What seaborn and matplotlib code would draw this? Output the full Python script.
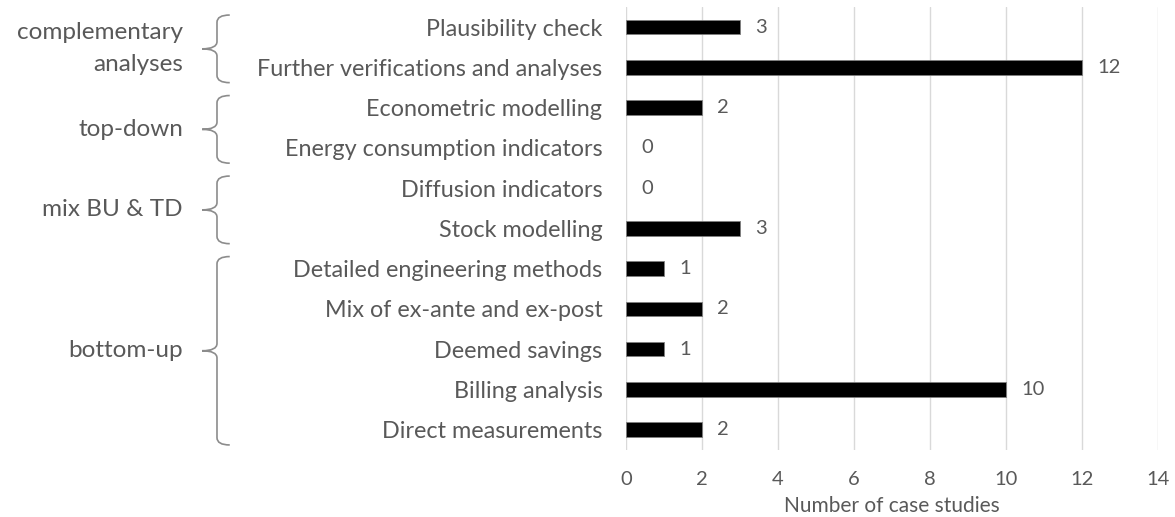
import matplotlib
matplotlib.use("Agg")
import matplotlib.pyplot as plt
from matplotlib.path import Path
from matplotlib.patches import PathPatch
from matplotlib.transforms import blended_transform_factory
import seaborn as sns
import pandas as pd

methods = [
    "Plausibility check",
    "Further verifications and analyses",
    "Econometric modelling",
    "Energy consumption indicators",
    "Diffusion indicators",
    "Stock modelling",
    "Detailed engineering methods",
    "Mix of ex-ante and ex-post",
    "Deemed savings",
    "Billing analysis",
    "Direct measurements",
]
case_counts = [3, 12, 2, 0, 0, 3, 1, 2, 1, 10, 2]

group_names = ["complementary\nanalyses", "top-down", "mix BU & TD", "bottom-up"]
group_first = [0, 2, 4, 6]
group_last = [1, 3, 5, 10]

x_ticks = [0, 2, 4, 6, 8, 10, 12, 14]

TEXT = "#595959"
GRID = "#d9d9d9"
BRACE = "#8c8c8c"

sns.set_theme(style="white")
plt.rcParams["font.family"] = ["Lato", "DejaVu Sans"]

df = pd.DataFrame({"method": methods, "count": case_counts})

fig = plt.figure(figsize=(11.75, 5.17), dpi=100)
ax = fig.add_axes([0.5328, 0.130, 0.4527, 0.8565])

sns.barplot(data=df, x="count", y="method", orient="h", color="black",
            width=0.36, edgecolor="#7f7f7f", linewidth=0.6, ax=ax,
            saturation=1)
# no outline on empty bars
for patch, v in zip(ax.patches, case_counts):
    if v == 0:
        patch.set_linewidth(0)

ax.set_xlim(0, 14)
ax.set_xticks(x_ticks)
ax.xaxis.grid(True, color=GRID, linewidth=1.0)
ax.set_axisbelow(True)
for s in ax.spines.values():
    s.set_visible(False)

ax.tick_params(axis="x", length=0, pad=15, labelsize=14.5, labelcolor=TEXT)
ax.tick_params(axis="y", length=0, pad=17, labelsize=16.8, labelcolor=TEXT)
ax.set_ylabel("")
ax.set_xlabel("Number of case studies", fontsize=15, color=TEXT, labelpad=6)

ax.bar_label(ax.containers[0], labels=[str(v) for v in case_counts],
             padding=11, fontsize=14.5, color=TEXT)

# curly braces grouping the methods
tr = blended_transform_factory(ax.transAxes, ax.transData)
x_hook, x_stem, x_tip = -0.745, -0.769, -0.797
r = 0.18
for name, a, b in zip(group_names, group_first, group_last):
    top = a - 0.3
    bot = b + 0.38
    mid = (top + bot) / 2
    verts = [
        (x_hook, top), (x_stem, top), (x_stem, top + r),
        (x_stem, mid - r),
        (x_stem, mid), (x_tip, mid),
        (x_stem, mid), (x_stem, mid + r),
        (x_stem, bot - r),
        (x_stem, bot), (x_hook, bot),
    ]
    codes = [Path.MOVETO, Path.CURVE3, Path.CURVE3,
             Path.LINETO,
             Path.CURVE3, Path.CURVE3,
             Path.CURVE3, Path.CURVE3,
             Path.LINETO,
             Path.CURVE3, Path.CURVE3]
    ax.add_patch(PathPatch(Path(verts, codes), transform=tr, fill=False,
                           edgecolor=BRACE, linewidth=1.2, clip_on=False))
    ax.text(-0.833, mid, name, transform=tr, ha="right", va="center",
            fontsize=17.5, color=TEXT, linespacing=1.65, multialignment="right")

fig.savefig("out.png", dpi=100, facecolor="white")
